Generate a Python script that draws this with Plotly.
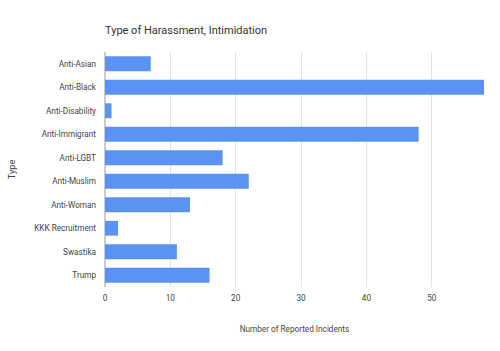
import plotly.graph_objects as go

categories = ["Anti-Asian", "Anti-Black", "Anti-Disability", "Anti-Immigrant", "Anti-LGBT",
              "Anti-Muslim", "Anti-Woman", "KKK Recruitment", "Swastika", "Trump"]
values = [7, 58, 1, 48, 18, 22, 13, 2, 11, 16]
x_ticks = [0, 10, 20, 30, 40, 50]

fig = go.Figure(go.Bar(
    x=values, y=categories, orientation="h",
    marker=dict(color="#5b93f4", line=dict(width=0)),
    hoverinfo="x+y",
))

fig.update_layout(
    width=500, height=351,
    margin=dict(l=105, r=16, t=52, b=64),
    paper_bgcolor="white", plot_bgcolor="white",
    font=dict(family="Roboto", size=8.2, color="#444444"),
    title=dict(text="Type of Harassment, Intimidation", x=105/500, xanchor="left",
               y=1 - 30/351, yanchor="middle", font=dict(size=11, color="#333333")),
    bargap=0.37,
    showlegend=False,
)
fig.update_xaxes(
    range=[0, 58], tickvals=x_ticks, showgrid=True, gridcolor="#e3e3e3", gridwidth=1,
    zeroline=True, zerolinecolor="#cccccc", zerolinewidth=2,
    ticks="", ticklabelstandoff=5, automargin=False,
    title=dict(text="Number of Reported Incidents", standoff=24, font=dict(size=8.2, color="#444444")),
    fixedrange=True,
)
fig.update_yaxes(
    autorange="reversed", showgrid=False, ticks="", ticklabelstandoff=8, automargin=False,
    title=dict(text="Type", standoff=16, font=dict(size=9.2, color="#444444")),
    fixedrange=True,
)
fig.write_html("out.html")
